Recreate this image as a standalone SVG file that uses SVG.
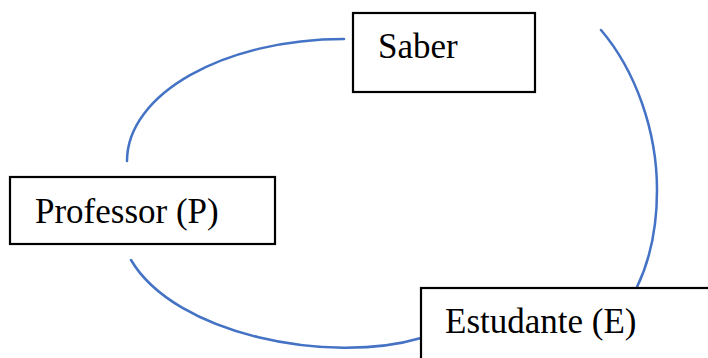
<svg xmlns="http://www.w3.org/2000/svg" width="708" height="358" viewBox="0 0 708 358">
<style>
.box{fill:#fff;stroke:#000;stroke-width:2.2}
.lbl{font-family:"Liberation Serif","Times New Roman",serif;font-size:35px;fill:#000}
.arc{fill:none;stroke:#4472C4;stroke-width:2.5;stroke-linecap:round}
</style>
<rect width="708" height="358" fill="#fff"/>
<g id="connectors">
<path class="arc" d="M127,161 C127,94 224,39 344,39"/>
<path class="arc" d="M601,30 C635,70 657,130 657,190 C657,225 650,260 637,287"/>
<path class="arc" d="M131,260 C175,335 330,365 421,338"/>
</g>
<g id="saber">
<rect class="box" x="353" y="13" width="182" height="79"/>
<text class="lbl" x="378" y="58">Saber</text>
</g>
<g id="professor">
<rect class="box" x="10" y="177" width="265" height="67"/>
<text class="lbl" x="35" y="223">Professor (P)</text>
</g>
<g id="estudante">
<rect class="box" x="421" y="288" width="300" height="100"/>
<text class="lbl" x="445" y="333">Estudante (E)</text>
</g>
</svg>
